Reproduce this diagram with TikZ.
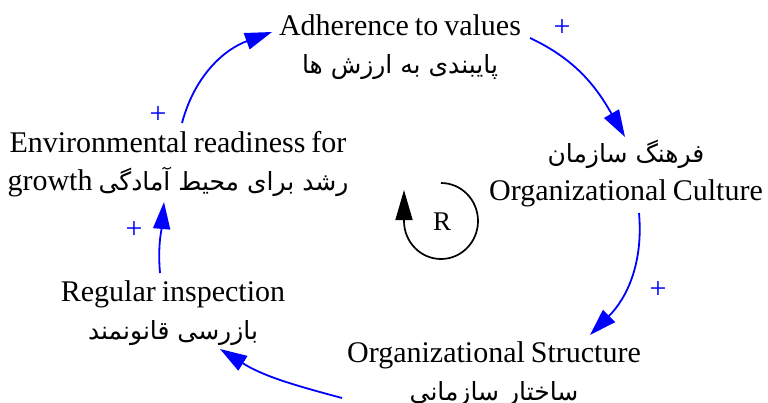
\documentclass[tikz,border=0pt]{standalone}
\usepackage{fontspec}
\setmainfont[WordSpace=0.8]{Liberation Serif}
\newfontfamily\fa[Script=Arabic]{DejaVu Sans}
\TeXXeTstate=1
\usetikzlibrary{arrows.meta}
\newcommand\fatext[1]{{\fa\fontsize{25}{38}\selectfont\beginR #1\endR}}
\newcommand\tightlines{\lineskiplimit=-60pt\relax}
\begin{document}
\begin{tikzpicture}[x=1pt,y=1pt,
  lbl/.style={align=center,inner sep=0pt,font=\fontsize{30}{38}\selectfont\tightlines},
  link/.style={blue,line width=1.8pt,-{Triangle[length=27pt,width=17pt]}},
  pol/.style={text=blue,inner sep=0pt,font=\fontsize{30}{30}\selectfont}]
\useasboundingbox (0,0) rectangle (768,-402);
\node[lbl] (adh) at (400,-47) {Adherence to values\\ \fatext{پایبندی به ارزش ها}};
\node[lbl] (cul) at (626,-174) {\fatext{فرهنگ سازمان}\\ Organizational Culture};
\node[lbl] (str) at (494,-374) {Organizational Structure\\ \fatext{ساختار سازمانی}};
\node[lbl] (reg) at (173,-313) {Regular inspection\\ \fatext{بازرسی قانونمند}};
\node[lbl] (env) at (178,-164) {Environmental readiness for\\ growth \fatext{رشد برای محیط آمادگی}};
\node[inner sep=0pt,font=\fontsize{27}{27}\selectfont] (R) at (442,-222) {R};
\draw[line width=1.7pt,-{Triangle[length=30pt,width=17pt]}] ([shift={(-1,39)}]R.center) arc[start angle=90,end angle=-180,x radius=37,y radius=38] -- ++(0,31);
\draw[link] ([shift={(4,41)}]env.center) to[out=75,in=200] ([shift={(-128,15)}]adh.center);
\draw[link] ([shift={(130,9)}]adh.center) to[out=-25,in=120] ([shift={(-1,37)}]cul.center);
\draw[link] ([shift={(13,-39)}]cul.center) to[out=-85,in=45] ([shift={(96,39)}]str.center);
\draw[link] ([shift={(-152,-24)}]str.center) to[out=165,in=-32] ([shift={(47,-36)}]reg.center);
\draw[link] ([shift={(-13,40)}]reg.center) to[out=95,in=-95] ([shift={(-14,-38)}]env.center);
\node[pol] (p1) at (158,-115) {+};
\node[pol] (p2) at (562,-28) {+};
\node[pol] (p3) at (658,-290) {+};
\node[pol] (p4) at (134,-230) {+};
\end{tikzpicture}
\end{document}
